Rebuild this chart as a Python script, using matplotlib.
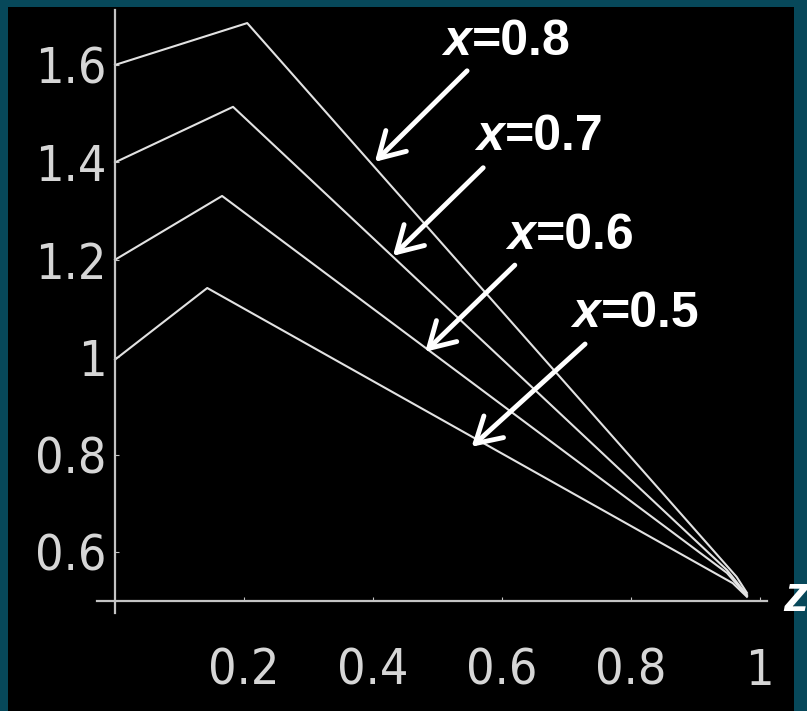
import matplotlib
matplotlib.use('Agg')
import matplotlib.pyplot as plt

# curves v(z) for several x values: rise to a peak, then a near-straight fall
z_08 = [0.0, 0.205, 0.964, 0.98]
v_08 = [1.6, 1.686, 0.549, 0.516]

z_07 = [0.0, 0.183, 0.949, 0.98]
v_07 = [1.4, 1.514, 0.563, 0.512]

z_06 = [0.0, 0.166, 0.949, 0.98]
v_06 = [1.2, 1.331, 0.557, 0.51]

z_05 = [0.0, 0.143, 0.958, 0.98]
v_05 = [0.995, 1.142, 0.536, 0.508]

xticks = [0.2, 0.4, 0.6, 0.8, 1.0]
xlabels = ['0.2', '0.4', '0.6', '0.8', '1']
yticks = [0.6, 0.8, 1.0, 1.2, 1.4, 1.6]
ylabels = ['0.6', '0.8', '1', '1.2', '1.4', '1.6']

# label text, arrow tip, arrow tail, label anchor
notes = [
    ('0.8', (0.403, 1.401), (0.546, 1.588), (0.509, 1.647)),
    ('0.7', (0.431, 1.208), (0.571, 1.389), (0.560, 1.452)),
    ('0.6', (0.481, 1.011), (0.620, 1.189), (0.608, 1.249)),
    ('0.5', (0.553, 0.816), (0.729, 1.027), (0.709, 1.089)),
]

fig = plt.figure(figsize=(8.07, 7.11), dpi=100, facecolor='#07485a')
ax = fig.add_axes([8/807, 0, 786/807, 704/711])
ax.set_facecolor('black')
ax.set_xlim(-0.166, 1.053)
ax.set_ylim(0.2735, 1.719)

lc = '#e2e2e2'
for zz, vv in [(z_08, v_08), (z_07, v_07), (z_06, v_06), (z_05, v_05)]:
    ax.plot(zz, vv, color=lc, lw=1.5, solid_joinstyle='round')

for s in ['top', 'right']:
    ax.spines[s].set_visible(False)
ax.spines['left'].set_position(('data', 0))
ax.spines['bottom'].set_position(('data', 0.5))
ax.spines['left'].set_bounds(0.475, 1.713)
ax.spines['bottom'].set_bounds(-0.028, 1.011)
for s in ['left', 'bottom']:
    ax.spines[s].set_color('#c4c4c4')
    ax.spines[s].set_linewidth(1.6)

tfont = dict(family='DejaVu Sans', stretch='condensed', size=36)
ax.set_xticks(xticks)
ax.set_xticklabels(xlabels, fontdict=tfont, color='#d6d6d6')
ax.set_yticks(yticks)
ax.set_yticklabels(ylabels, fontdict=tfont, color='#d6d6d6')
ax.tick_params(axis='x', direction='in', length=3, color='#c4c4c4', pad=33)
ax.tick_params(axis='y', direction='in', length=3, color='#c4c4c4', pad=6)

for lab, tip, tail, pos in notes:
    ax.annotate('', xy=tip, xytext=tail,
                arrowprops=dict(arrowstyle='->,head_length=0.6,head_width=0.35',
                                lw=3.5, color='white', mutation_scale=30,
                                shrinkA=0, shrinkB=0))
    t = ax.text(pos[0], pos[1], 'x', color='white', fontsize=36,
                family='Liberation Sans', weight='bold', style='italic',
                va='center', ha='left')
    ax.annotate('=' + lab, xy=(1, 0.5), xycoords=t, xytext=(1, 0),
                textcoords='offset points', color='white', fontsize=36,
                family='Liberation Sans', weight='bold', va='center', ha='left')

ax.text(1.036, 0.5055, 'z', color='white', fontsize=36, family='Liberation Sans',
        weight='bold', style='italic', va='center', ha='left', clip_on=False)

plt.savefig('out.png', dpi=100, facecolor=fig.get_facecolor())
